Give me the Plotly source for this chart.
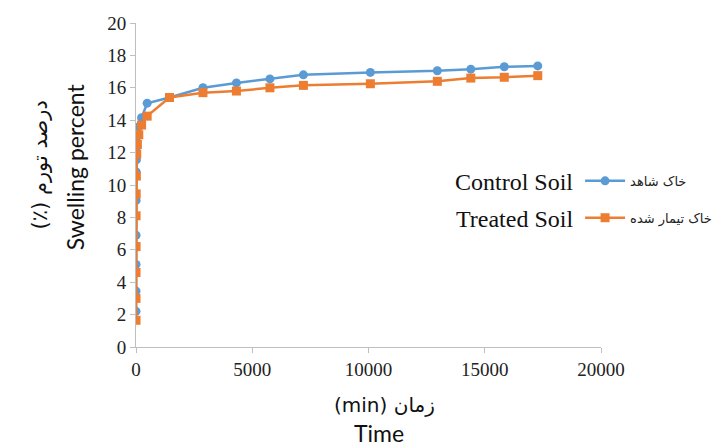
import plotly.graph_objects as go

times = [0.25, 0.5, 1, 2, 4, 8, 15, 30, 60, 120, 240, 480, 1440, 2880, 4320,
         5760, 7200, 10080, 12960, 14400, 15840, 17280]
control = [2.2, 3.45, 5.1, 6.9, 9.05, 10.8, 11.55, 12.35, 13.0, 13.6, 14.15, 15.05,
           15.4, 16.0, 16.3, 16.55, 16.8, 16.95, 17.05, 17.15, 17.3, 17.35]
treated = [1.65, 3.0, 4.6, 6.2, 8.1, 9.45, 10.55, 11.9, 12.5, 13.1, 13.7, 14.25,
           15.4, 15.7, 15.8, 16.0, 16.15, 16.25, 16.4, 16.6, 16.65, 16.75]

series_fa = ["خاک شاهد", "خاک تیمار شده"]
series_en = ["Control Soil", "Treated Soil"]
x_ticks = [0, 5000, 10000, 15000, 20000]
x_ticktext = ["0", "5000", "10000", "15000", "20000"]
y_ticks = [0, 2, 4, 6, 8, 10, 12, 14, 16, 18, 20]

BLUE = "#5B9BD5"
ORANGE = "#ED7D31"
SERIF = "Liberation Serif"

fig = go.Figure()
fig.add_trace(go.Scatter(
    x=times, y=control, name=series_fa[0], mode="lines+markers",
    line=dict(color=BLUE, width=2.5),
    marker=dict(symbol="circle", size=9, color=BLUE),
    legendgroup="a",
))
fig.add_trace(go.Scatter(
    x=times, y=treated, name=series_fa[1], mode="lines+markers",
    line=dict(color=ORANGE, width=2.5),
    marker=dict(symbol="square", size=9, color=ORANGE),
    legendgroup="b",
))

axis_common = dict(
    showgrid=False, zeroline=False, showline=True, linecolor="#BFBFBF",
    linewidth=1, ticks="outside", ticklen=5, tickcolor="#BFBFBF",
    tickfont=dict(family=SERIF, size=19, color="#222"), automargin=False,
)
fig.update_xaxes(range=[0, 20000], tickvals=x_ticks, ticktext=x_ticktext, **axis_common)
fig.update_yaxes(range=[0, 20], tickvals=y_ticks, **axis_common)

# page body has an 8px margin, so the figure is sized to fill the window from that offset
fig.update_layout(
    width=712, height=439,
    margin=dict(l=128, r=119, t=15, b=100, autoexpand=False),
    paper_bgcolor="white", plot_bgcolor="white",
    showlegend=True,
    legend=dict(
        x=0.955, y=0.559, xanchor="left", yanchor="top",
        font=dict(family="DejaVu Sans", size=13, color="#222"),
        tracegroupgap=17, bgcolor="rgba(0,0,0,0)",
        itemwidth=40,
    ),
)

annotations = [
    dict(text=series_en[0], x=0.945, y=0.508, xref="paper", yref="paper",
         xanchor="right", yanchor="middle", showarrow=False,
         font=dict(family=SERIF, size=24, color="#111")),
    dict(text=series_en[1], x=0.945, y=0.395, xref="paper", yref="paper",
         xanchor="right", yanchor="middle", showarrow=False,
         font=dict(family=SERIF, size=24, color="#111")),
    dict(text="Swelling percent", x=-0.131, y=0.555, xref="paper", yref="paper",
         xanchor="center", yanchor="middle", textangle=-90, showarrow=False,
         font=dict(family="Lato", size=23, color="#111")),
    dict(text="(٪) درصد تورم", x=-0.206, y=0.561, xref="paper", yref="paper",
         xanchor="center", yanchor="middle", textangle=-90, showarrow=False,
         font=dict(family="DejaVu Sans", size=21, color="#111")),
    dict(text="(min) زمان", x=0.535, y=-0.18, xref="paper", yref="paper",
         xanchor="center", yanchor="middle", showarrow=False,
         font=dict(family="DejaVu Sans", size=20, color="#111")),
    dict(text="Time", x=0.523, y=-0.265, xref="paper", yref="paper",
         xanchor="center", yanchor="middle", showarrow=False,
         font=dict(family="Lato", size=23, color="#111")),
]
fig.update_layout(annotations=annotations)

fig.write_html("out.html")
